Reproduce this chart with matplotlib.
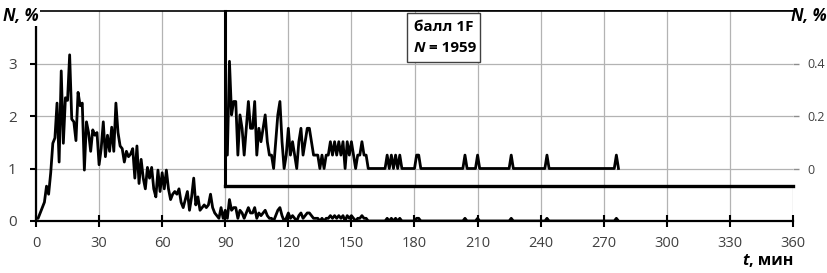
import matplotlib.pyplot as plt
import numpy as np

plt.rcParams['font.family'] = ['Open Sans', 'DejaVu Sans']
plt.rcParams['axes.unicode_minus'] = False

N_TOTAL = 1959
# events per minute, minutes 0..89
counts_0_89 = [1, 1, 3, 5, 7, 13, 10, 18, 29, 31,
               44, 22, 56, 29, 46, 45, 62, 38, 37, 30,
               48, 43, 44, 19, 37, 33, 26, 34, 32, 33,
               21, 27, 37, 24, 32, 26, 35, 26, 44, 33,
               28, 27, 22, 26, 24, 25, 27, 16, 28, 14,
               23, 16, 12, 20, 16, 20, 12, 9, 19, 11,
               18, 12, 19, 12, 8, 10, 11, 10, 12, 7,
               5, 8, 11, 4, 9, 16, 6, 9, 4, 5,
               6, 5, 6, 10, 5, 3, 2, 1, 5, 1]
# minutes 90..159
counts_90_159 = [4, 1, 8, 4, 5, 5, 1, 4, 3, 1,
                 3, 5, 3, 3, 5, 1, 3, 2, 3, 4,
                 2, 1, 1, 0, 2, 4, 5, 2, 0, 1,
                 3, 1, 2, 1, 0, 2, 3, 1, 2, 3,
                 3, 2, 1, 1, 1, 0, 1, 0, 1, 1,
                 2, 1, 2, 1, 2, 1, 2, 0, 2, 1,
                 2, 1, 0, 1, 1, 2, 1, 1, 0, 0]
# isolated single events after 160 min
late_minutes = [167, 169, 171, 173, 181, 182, 204, 210, 226, 243, 276]
late_counts = [1, 1, 1, 1, 1, 1, 1, 1, 1, 1, 1]
last_minute = 277

minutes = np.arange(0, last_minute + 1)
counts = np.zeros(len(minutes))
counts[:90] = counts_0_89
counts[90:160] = counts_90_159
counts[late_minutes] = late_counts
pct = counts / N_TOTAL * 100

W, H = 828, 273
fig = plt.figure(figsize=(W / 100, H / 100), dpi=100)
ax = fig.add_axes([36 / W, 1 - 221 / H, (793 - 36) / W, (221 - 11) / H])

grid_c = '#b3b3b3'
lab_c = '#404040'

ax.plot(minutes, pct, color='black', lw=2.0, zorder=3)
ax.set_xlim(0, 360)
ax.set_ylim(0, 4)
ax.set_xticks(np.arange(0, 361, 30))
ax.set_yticks([0, 1, 2, 3])
ax.grid(color=grid_c, lw=0.9)
ax.set_axisbelow(True)
ax.spines['right'].set_visible(False)
ax.spines['top'].set_linewidth(1.2)
ax.spines['left'].set_linewidth(1.6)
ax.spines['bottom'].set_linewidth(1.6)
ax.tick_params(axis='x', direction='inout', length=8, width=1.5, color='black',
               labelcolor=lab_c, labelsize=10.5, pad=7)
ax.tick_params(axis='y', direction='out', length=4, width=1.5, color='black',
               labelcolor=lab_c, labelsize=11, pad=10)

# inset with the tail, own scale on the right
y0 = 0.67
ins = ax.inset_axes([90, y0, 270, 4 - y0], transform=ax.transData)
ins.plot(minutes[90:], pct[90:], color='black', lw=2.0, zorder=3)
ins.set_xlim(90, 360)
ins.set_ylim((y0 - 1) / 5, 0.6)
ins.set_xticks(np.arange(120, 331, 30))
ins.set_yticks([0, 0.2, 0.4])
ins.set_yticklabels(['0', '0.2', '0.4'])
ins.grid(color=grid_c, lw=0.9)
ins.set_axisbelow(True)
ins.spines['right'].set_visible(False)
ins.spines['top'].set_linewidth(1.2)
ins.spines['left'].set_linewidth(2.2)
ins.spines['bottom'].set_linewidth(2.4)
ins.tick_params(axis='x', length=0, labelbottom=False)
ins.tick_params(axis='y', left=False, labelleft=False, right=True, labelright=True,
                direction='out', length=4, width=1, color='#8c8c8c',
                labelcolor=lab_c, labelsize=9, pad=6)

# axis titles
fig.text(3 / W, 1 - 16 / H, 'N, %', ha='left', va='center', fontsize=12,
         fontweight='bold', fontstyle='italic',
         bbox=dict(facecolor='white', edgecolor='none', pad=1))
fig.text(827 / W, 1 - 16 / H, 'N, %', ha='right', va='center', fontsize=12,
         fontweight='bold', fontstyle='italic')
unit = fig.text(793 / W, 1 - 261 / H, ', мин', ha='right', va='center',
                fontsize=11.5, fontweight='bold')
ax.annotate('t', xy=(0, 0.5), xycoords=unit, ha='right', va='center',
            fontsize=11.5, fontweight='bold', fontstyle='italic')

# label box
box = plt.Rectangle((407 / W, 1 - 62 / H), 73 / W, 49 / H, transform=fig.transFigure,
                    facecolor='white', edgecolor='#404040', lw=1.0, zorder=5)
fig.patches.append(box)
fig.text(443.5 / W, 1 - 27 / H, 'балл 1F', ha='center', va='center',
         fontsize=11, fontweight='bold', zorder=6)
rest = fig.text(425 / W, 1 - 48 / H, ' = 1959', ha='left', va='center',
                fontsize=11, fontweight='bold', zorder=6)
fig.text(425 / W, 1 - 48 / H, 'N', ha='right', va='center', fontsize=11,
         fontweight='bold', fontstyle='italic', zorder=6)

fig.savefig('out.png', dpi=100)
